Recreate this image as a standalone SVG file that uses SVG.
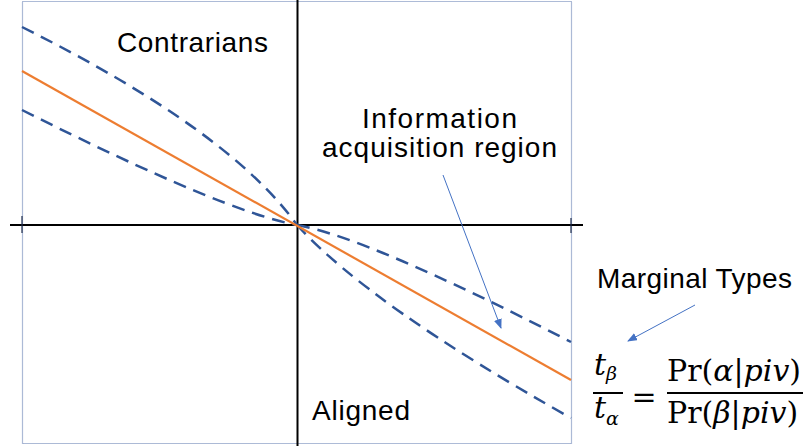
<svg xmlns="http://www.w3.org/2000/svg" width="810" height="446" viewBox="0 0 810 446">
<style>
.box{fill:none;stroke:#5B76AE;stroke-width:1.2;stroke-dasharray:1 1}
.axis{stroke:#000;stroke-width:2;fill:none}
.tick{stroke:#1F2D4D;stroke-width:1.2}
.dash{fill:none;stroke:#2F5597;stroke-width:2.5;stroke-dasharray:13 8}
.solid{fill:none;stroke:#ED7D31;stroke-width:2.2}
.conn{stroke:#4472C4;stroke-width:1;fill:none}
.lbl{font-family:"Liberation Sans",Arial,sans-serif;font-size:28px;fill:#000}
.math{font-family:"DejaVu Serif","Liberation Serif",serif;font-size:30px;fill:#000}
.bar{stroke:#000;stroke-width:2}
</style>
<defs>
<marker id="ah" markerWidth="10" markerHeight="8" refX="9" refY="4" orient="auto" markerUnits="userSpaceOnUse">
<path d="M0,0 L10,4 L0,8 Z" fill="#4472C4"/>
</marker>
</defs>
<rect width="810" height="446" fill="#fff"/>
<g id="frame">
<rect class="box" x="22.5" y="1.5" width="549" height="442"/>
</g>
<g id="axes">
<line class="axis" x1="10" y1="225" x2="583" y2="225"/>
<line class="axis" x1="297.5" y1="0" x2="297.5" y2="446"/>
<line class="tick" x1="22" y1="216" x2="22" y2="233"/>
<line class="tick" x1="571" y1="218" x2="571" y2="233"/>
</g>
<g id="curves">
<path class="dash" d="M22,27 Q230,131 297,225"/>
<path class="dash" d="M297,225 Q370,305 571,418"/>
<path class="dash" d="M22,110 Q225,212 297,225"/>
<path class="dash" d="M297,225 Q369,238 571,342"/>
<line class="solid" x1="22" y1="71" x2="571" y2="380"/>
</g>
<g id="label-contrarians"><text class="lbl" x="117" y="52" textLength="151">Contrarians</text></g>
<g id="label-info">
<text class="lbl" x="362" y="128" textLength="155">Information</text>
<text class="lbl" x="322" y="157" textLength="235">acquisition region</text>
</g>
<g id="label-aligned"><text class="lbl" x="312" y="420" textLength="98">Aligned</text></g>
<g id="label-marginal"><text class="lbl" x="597" y="288" textLength="195">Marginal Types</text></g>
<g id="formula">
<text class="math" x="594" y="375" font-size="26" font-style="italic">t<tspan font-size="19" dy="5">β</tspan></text>
<line class="bar" x1="593" y1="393" x2="623" y2="393"/>
<text class="math" x="594" y="418" font-size="26" font-style="italic">t<tspan font-size="19" dy="7">α</tspan></text>
<text class="math" x="644" y="407" text-anchor="middle" font-size="32">=</text>
<text class="math" x="667" y="381">Pr(<tspan font-style="italic">α</tspan>|<tspan font-style="italic">piv</tspan>)</text>
<line class="bar" x1="667" y1="393" x2="803" y2="393"/>
<text class="math" x="667" y="423">Pr(<tspan font-style="italic">β</tspan>|<tspan font-style="italic">piv</tspan>)</text>
</g>
<g id="connectors">
<line class="conn" x1="443" y1="175" x2="501" y2="328" marker-end="url(#ah)"/>
<line class="conn" x1="695" y1="305" x2="628" y2="341" marker-end="url(#ah)"/>
</g>
</svg>
